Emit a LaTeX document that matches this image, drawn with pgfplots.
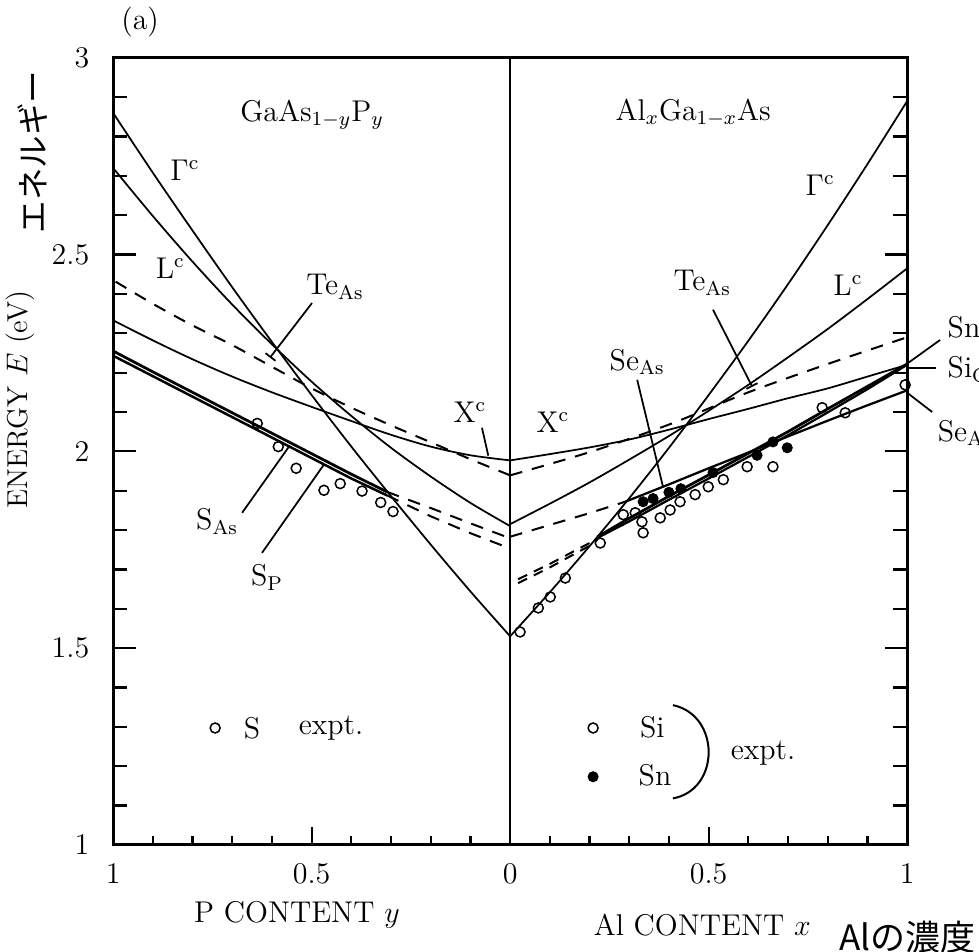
\documentclass[border=0pt]{standalone}
\usepackage{fontspec}
\usepackage{pgfplots}
\pgfplotsset{compat=1.18}
\usetikzlibrary{arrows.meta}
\newfontfamily\jp{Noto Sans CJK JP}
\begin{document}
\begin{tikzpicture}
\begin{axis}[
  scale only axis, width=317.6pt, height=314.8pt,
  xmin=-1, xmax=1, ymin=1, ymax=3,
  axis line style={line width=1.1pt},
  xtick={-1,-0.5,0,0.5,1}, xticklabels={1,0.5,0,0.5,1},
  minor x tick num=4,
  ytick={1,1.5,2,2.5,3}, yticklabels={1,1.5,2,2.5,3},
  minor y tick num=4,
  xtick pos=bottom, ytick pos=both,
  tick align=inside,
  major tick length=9pt, minor tick length=5.5pt,
  xtick style={/pgfplots/major tick length=7pt,/pgfplots/minor tick length=3.5pt},
  tick style={black, line width=0.9pt},
  clip=false,
  ticklabel style={font=\fontsize{12}{14}\selectfont},
  yticklabel style={xshift=-6pt},
  xticklabel style={yshift=-4pt},
  every axis plot/.append style={black},
]
% middle divider
\draw[line width=0.9pt] (axis cs:0,1) -- (axis cs:0,3);

% ---------- left panel (x = -y) ----------
% Gamma
\addplot[line width=0.7pt, smooth] coordinates {(0,1.53) (-0.1,1.644) (-0.2,1.763) (-0.3,1.886) (-0.4,2.012) (-0.5,2.143) (-0.6,2.278) (-0.7,2.417) (-0.8,2.561) (-0.9,2.708) (-1,2.86)};
% L
\addplot[line width=0.7pt, smooth] coordinates {(0,1.81) (-0.1,1.869) (-0.2,1.936) (-0.3,2.009) (-0.4,2.090) (-0.5,2.177) (-0.6,2.272) (-0.7,2.373) (-0.8,2.482) (-0.9,2.598) (-1,2.72)};
% X
\addplot[line width=0.7pt, smooth] coordinates {(0,1.977) (-0.1,1.99) (-0.2,2.012) (-0.3,2.042) (-0.4,2.077) (-0.5,2.113) (-0.6,2.150) (-0.7,2.190) (-0.8,2.234) (-0.9,2.282) (-1,2.333)};
% Te_As dashed
\addplot[line width=0.8pt, dash pattern=on 5pt off 4pt, smooth] coordinates {(0,1.939) (-0.1,1.98) (-0.2,2.023) (-0.3,2.066) (-0.4,2.111) (-0.5,2.160) (-0.6,2.215) (-0.7,2.270) (-0.8,2.32) (-0.9,2.375) (-1,2.435)};
% S_As
\addplot[line width=1.1pt] coordinates {(-1,2.255) (-0.9,2.202) (-0.8,2.150) (-0.7,2.098) (-0.6,2.046) (-0.5,1.994) (-0.4,1.942) (-0.31,1.897)};
\addplot[line width=0.8pt, dash pattern=on 5pt off 4pt] coordinates {(-0.31,1.897) (-0.2,1.856) (-0.1,1.817) (0,1.779)};
% S_P
\addplot[line width=1.0pt] coordinates {(-1,2.243) (-0.9,2.191) (-0.8,2.139) (-0.7,2.087) (-0.6,2.035) (-0.5,1.983) (-0.4,1.931) (-0.31,1.888)};
\addplot[line width=0.8pt, dash pattern=on 5pt off 4pt] coordinates {(-0.31,1.888) (-0.2,1.835) (-0.1,1.792) (0,1.753)};
% S expt
\addplot[only marks, mark=o, mark size=2pt, line width=0.6pt] coordinates {(-0.637,2.071) (-0.584,2.012) (-0.539,1.957) (-0.469,1.901) (-0.428,1.918) (-0.373,1.899) (-0.326,1.870) (-0.295,1.847)};

% ---------- right panel ----------
% Gamma
\addplot[line width=0.7pt, smooth] coordinates {(0,1.53) (0.1,1.642) (0.2,1.759) (0.3,1.881) (0.4,2.009) (0.5,2.143) (0.6,2.281) (0.7,2.425) (0.8,2.575) (0.9,2.730) (1,2.89)};
% L
\addplot[line width=0.7pt, smooth] coordinates {(0,1.815) (0.1,1.867) (0.2,1.921) (0.3,1.979) (0.4,2.039) (0.5,2.103) (0.6,2.169) (0.7,2.239) (0.8,2.311) (0.9,2.387) (1,2.465)};
% X
\addplot[line width=0.7pt, smooth] coordinates {(0,1.977) (0.1,1.993) (0.2,2.010) (0.3,2.030) (0.4,2.055) (0.5,2.082) (0.6,2.108) (0.7,2.135) (0.8,2.160) (0.9,2.190) (1,2.22)};
% Te_As dashed
\addplot[line width=0.8pt, dash pattern=on 5pt off 4pt, smooth] coordinates {(0,1.939) (0.2,1.998) (0.4,2.068) (0.6,2.150) (0.8,2.222) (1,2.29)};
% Se_As
\addplot[line width=0.8pt, dash pattern=on 5pt off 4pt] coordinates {(0,1.783) (0.1,1.813) (0.2,1.843) (0.29,1.872)};
\addplot[line width=0.9pt] coordinates {(0.29,1.872) (0.4,1.916) (0.5,1.957) (0.6,1.997) (0.7,2.038) (0.8,2.078) (0.9,2.117) (1,2.155)};
% Sn
\addplot[line width=0.8pt, dash pattern=on 4pt off 3pt] coordinates {(0.02,1.675) (0.1,1.714) (0.2,1.767) (0.22,1.780)};
\addplot[line width=1.1pt] coordinates {(0.22,1.783) (0.3,1.830) (0.4,1.886) (0.5,1.940) (0.6,1.995) (0.7,2.050) (0.8,2.108) (0.9,2.165) (1,2.222)};
% Si
\addplot[line width=0.8pt, dash pattern=on 4pt off 3pt] coordinates {(0.02,1.665) (0.1,1.705) (0.2,1.760) (0.22,1.776)};
\addplot[line width=0.9pt] coordinates {(0.22,1.780) (0.3,1.822) (0.4,1.877) (0.5,1.931) (0.6,1.986) (0.7,2.041) (0.8,2.099) (0.9,2.158) (1,2.22)};
% Si expt (open)
\addplot[only marks, mark=o, mark size=2pt, line width=0.6pt, fill=white] coordinates {(0.025,1.541) (0.071,1.602) (0.101,1.630) (0.139,1.678) (0.227,1.767) (0.285,1.839) (0.315,1.844) (0.332,1.821) (0.335,1.793) (0.378,1.831) (0.403,1.851) (0.428,1.872) (0.466,1.890) (0.499,1.910) (0.537,1.928) (0.597,1.961) (0.662,1.961) (0.786,2.111) (0.844,2.098) (0.995,2.169)};
% Sn expt (filled)
\addplot[only marks, mark=*, mark size=2pt] coordinates {(0.335,1.872) (0.36,1.880) (0.40,1.896) (0.43,1.905) (0.511,1.946) (0.622,1.990) (0.662,2.024) (0.698,2.009)};

% legends
\addplot[only marks, mark=o, mark size=2pt, line width=0.6pt] coordinates {(-0.743,1.297)};
\addplot[only marks, mark=o, mark size=2pt, line width=0.6pt] coordinates {(0.209,1.297)};
\addplot[only marks, mark=*, mark size=2pt] coordinates {(0.209,1.173)};

\begin{scope}[font=\fontsize{12}{14}\selectfont]
\node at (axis cs:-0.650,1.297) {S};
\node at (axis cs:-0.451,1.297) {expt.};
\node at (axis cs:0.358,1.300) {Si};
\node at (axis cs:0.365,1.178) {Sn};
\node at (axis cs:0.637,1.234) {expt.};
\draw[line width=0.8pt] (axis cs:0.41,1.355) .. controls (axis cs:0.53,1.33) and (axis cs:0.53,1.14) .. (axis cs:0.41,1.118);

\node at (axis cs:-0.932,3.091) {(a)};
\node at (axis cs:-0.499,2.855) {GaAs$_{1-y}$P$_y$};
\node at (axis cs:0.461,2.860) {Al$_x$Ga$_{1-x}$As};
\node at (axis cs:-0.819,2.715) {$\Gamma^{\mathrm{c}}$};
\node at (axis cs:-0.856,2.466) {L$^{\mathrm{c}}$};
\node at (axis cs:-0.441,2.418) {Te$_{\mathrm{As}}$};
\node at (axis cs:-0.101,2.100) {X$^{\mathrm{c}}$};
\node at (axis cs:-0.738,1.821) {S$_{\mathrm{As}}$};
\node at (axis cs:-0.612,1.679) {S$_{\mathrm{P}}$};
\node at (axis cs:0.781,2.677) {$\Gamma^{\mathrm{c}}$};
\node at (axis cs:0.851,2.423) {L$^{\mathrm{c}}$};
\node at (axis cs:0.484,2.428) {Te$_{\mathrm{As}}$};
\node at (axis cs:0.320,2.227) {Se$_{\mathrm{As}}$};
\node at (axis cs:0.108,2.075) {X$^{\mathrm{c}}$};
\node[anchor=west, inner sep=0pt] at (axis cs:1.101,2.316) {Sn};
\node[anchor=west, inner sep=0pt] at (axis cs:1.101,2.207) {Si$_{\mathrm{Ga}}$};
\node[anchor=west, inner sep=0pt] at (axis cs:1.076,2.047) {Se$_{\mathrm{As}}$};
\node at (axis cs:-0.537,0.822) {P CONTENT $y$};
\node at (axis cs:0.484,0.797) {Al CONTENT $x$};
\node[rotate=90, font=\fontsize{11.5}{13}\selectfont] at (axis cs:-1.234,2.131) {ENERGY $E$ (eV)};
\end{scope}
\node[rotate=90, font=\jp\fontsize{13}{15}\selectfont] at (axis cs:-1.202,2.761) {エネルギー};
\node[font=\jp\fontsize{14}{16}\selectfont] at (axis cs:1.0,0.766) {Alの濃度};

% pointers
\draw[line width=0.7pt, -{Bar[width=5pt]}] (axis cs:-0.499,2.377) -- (axis cs:-0.605,2.238);
\draw[line width=0.7pt] (axis cs:-0.071,2.060) -- (axis cs:-0.055,1.989);
\draw[line width=0.7pt] (axis cs:-0.675,1.844) -- (axis cs:-0.555,2.015);
\draw[line width=0.7pt] (axis cs:-0.625,1.742) -- (axis cs:-0.47,1.965);
\draw[line width=0.7pt, -{Bar[width=5pt]}] (axis cs:0.511,2.360) -- (axis cs:0.610,2.164);
\draw[line width=0.7pt] (axis cs:0.320,2.182) -- (axis cs:0.385,1.910);
\draw[line width=0.7pt] (axis cs:1.083,2.283) -- (axis cs:1.003,2.225);
\draw[line width=0.7pt] (axis cs:1.0,2.212) -- (axis cs:1.073,2.212);
\draw[line width=0.7pt] (axis cs:1.0,2.149) -- (axis cs:1.063,2.10);

\coordinate (bbSW) at (axis cs:-1.285,0.728);
\coordinate (bbNE) at (axis cs:1.181,3.147);
\end{axis}
\pgfresetboundingbox
\path[use as bounding box] (bbSW) rectangle (bbNE);
\end{tikzpicture}
\end{document}
